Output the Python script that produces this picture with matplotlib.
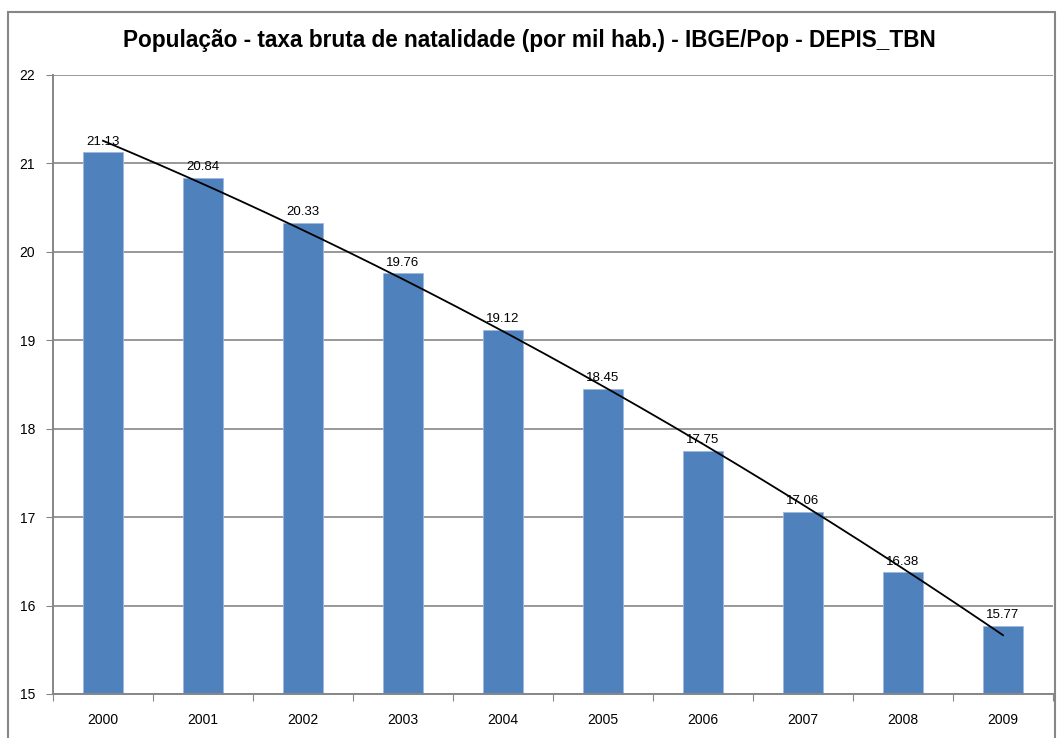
import numpy as np
import matplotlib.pyplot as plt
from matplotlib.patches import Rectangle

# data
years = ['2000', '2001', '2002', '2003', '2004', '2005', '2006', '2007', '2008', '2009']
tbn = [21.13, 20.84, 20.33, 19.76, 19.12, 18.45, 17.75, 17.06, 16.38, 15.77]

plt.rcParams['font.family'] = ['Liberation Sans', 'DejaVu Sans']

fig = plt.figure(figsize=(10.59, 7.38), dpi=100)
W, H = 1059, 738
ax = fig.add_axes([53 / W, 1 - 694 / H, 1000 / W, (694 - 75) / H])

x = np.arange(len(years))
ax.bar(x, tbn, width=0.4, color='#4F81BD', edgecolor='#9DB9DE', linewidth=0.6, zorder=2)

# polynomial trendline (order 2) like the Excel one
coef = np.polyfit(x, tbn, 2)
xs = np.linspace(0, len(years) - 1, 200)
ax.plot(xs, np.polyval(coef, xs), color='black', linewidth=1.3, zorder=3)

for xi, v in zip(x, tbn):
    ax.text(xi, v + 0.05, f'{v:.2f}', ha='center', va='bottom', fontsize=9.5, zorder=4)

ax.set_xlim(-0.5, len(years) - 0.5)
ax.set_ylim(15, 22)
ax.set_yticks(range(15, 23))
ax.set_xticks(np.arange(-0.5, len(years), 1.0), minor=False)
ax.set_xticklabels([])
ax.set_xticks(x, minor=True)
ax.set_xticklabels(years, minor=True, fontsize=10)
ax.tick_params(axis='x', which='minor', length=0, pad=14)
ax.tick_params(axis='x', which='major', length=5, color='#868686', direction='out')
ax.tick_params(axis='y', length=5, color='#868686', labelsize=10, pad=8)
ax.grid(axis='y', color='#868686', linewidth=1.2, zorder=0)
ax.set_axisbelow(True)
for s in ['top', 'right']:
    ax.spines[s].set_visible(False)
for s in ['left', 'bottom']:
    ax.spines[s].set_color('#868686')
    ax.spines[s].set_linewidth(1.4)

fig.text(0.5, 1 - 40 / H, 'População - taxa bruta de natalidade (por mil hab.) - IBGE/Pop - DEPIS_TBN',
         ha='center', va='center', fontsize=16.3, fontweight='bold')

# chart border
fig.patches.append(Rectangle((8 / W, -0.05), (1055 - 8) / W, 1 - 12 / H + 0.05,
                             transform=fig.transFigure, fill=False,
                             edgecolor='#868686', linewidth=1.5))

plt.savefig('out.png', dpi=100)
